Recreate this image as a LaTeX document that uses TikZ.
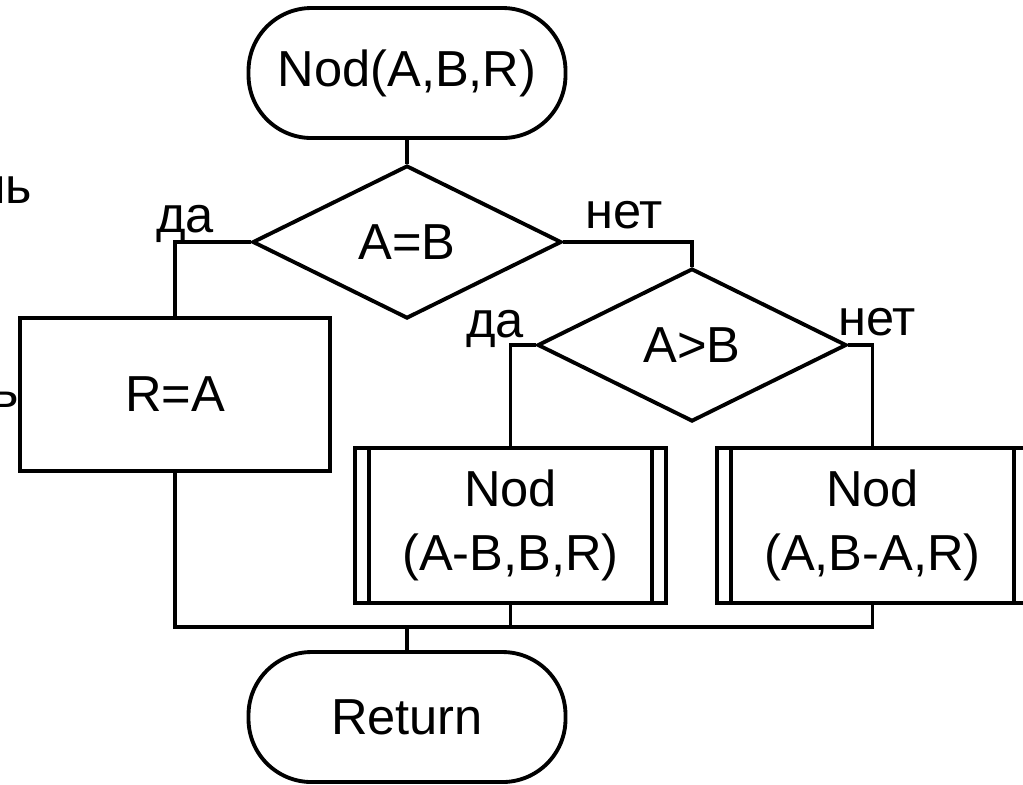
\documentclass[tikz,border=0pt]{standalone}
\usepackage{fontspec}
\setmainfont{Liberation Sans}
\usepackage{tikz}
\usetikzlibrary{shapes.geometric, positioning}

\begin{document}
\begin{tikzpicture}[line width=1.1pt,
            every node/.style={font=\fontsize{14.4}{18.2}\selectfont},
            term/.style={draw, rectangle, rounded corners=0.63cm, minimum width=3.17cm, minimum height=1.30cm},
            cond/.style={draw, diamond, inner sep=0pt, minimum width=3.09cm, minimum height=1.53cm},
            act/.style={draw, rectangle, minimum width=3.10cm, minimum height=1.53cm},
            subproc/.style={draw, rectangle, align=center, minimum width=3.11cm, minimum height=1.55cm,
                path picture={
                    \draw ([xshift=0.14cm]path picture bounding box.north west) -- ([xshift=0.14cm]path picture bounding box.south west);
                    \draw ([xshift=-0.14cm]path picture bounding box.north east) -- ([xshift=-0.14cm]path picture bounding box.south east);
                }}]
            \useasboundingbox (0,0) rectangle (10.23,-7.84);
            \node[anchor=base east, inner sep=0pt] (frag1) at (0.34,-2.03) {ль};
            \node[anchor=base east, inner sep=0pt] (frag2) at (0.21,-4.07) {ь};
            \node[term] (start) at (4.07,-0.73) {Nod(A,B,R)};
            \node[cond] (eq) at (4.07,-2.42) {A=B};
            \node[cond] (gt) at (6.92,-3.45) {A>B};
            \node[act] (res) at (1.75,-3.945) {R=A};
            \node[subproc] (left) at (5.105,-5.255) {Nod\\(A-B,B,R)};
            \node[subproc] (right) at (8.725,-5.255) {Nod\\(A,B-A,R)};
            \node[term] (stop) at (4.07,-7.17) {Return};
            \coordinate (join) at (0,-6.27);
            \node[anchor=base] (yes1) at (1.85,-2.32) {да};
            \node[anchor=base] (no1) at (6.24,-2.28) {нет};
            \node[anchor=base] (yes2) at (4.95,-3.37) {да};
            \node[anchor=base] (no2) at (8.77,-3.35) {нет};
            \draw (start) -- (eq);
            \draw (eq.west) -| (res.north);
            \draw (eq.east) -| (gt.north);
            \draw (gt.west) -| (left.north);
            \draw (gt.east) -| (right.north);
            \draw (res.south) |- (right.south |- join) -- (right.south);
            \draw (left.south) -- (left.south |- join);
            \draw (stop.north) -- (stop.north |- join);
        \end{tikzpicture}
\end{document}
